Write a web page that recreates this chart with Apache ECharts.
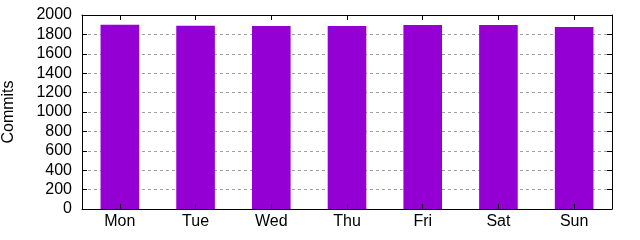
<!DOCTYPE html>
<html><head><meta charset="utf-8">
<script src="https://cdn.jsdelivr.net/npm/echarts@6/dist/echarts.min.js"></script>
<style>html,body{margin:0;padding:0;background:#fff}#c{width:640px;height:240px}</style>
</head><body><div id="c"></div>
<script>
const categories = ["Mon","Tue","Wed","Thu","Fri","Sat","Sun"];
const commits = [1900, 1888, 1887, 1886, 1896, 1897, 1876];
const yLabel = "Commits";

const chart = echarts.init(document.getElementById('c'), null, {renderer:'canvas'});
const font = 'Liberation Sans, Arial, sans-serif';
chart.setOption({
  animation:false,
  grid:{left:82,right:28,top:15,bottom:31,show:false,outerBoundsMode:'none',containLabel:false},
  xAxis:[{
    type:'category',data:categories,position:'bottom',
    axisLine:{show:true,lineStyle:{color:'#000',width:1}},
    axisTick:{show:true,inside:true,length:5,alignWithLabel:true,lineStyle:{color:'#000'}},
    axisLabel:{color:'#000',fontSize:16,fontFamily:font,margin:5},
    splitLine:{show:false},z:10
  },{
    type:'category',data:categories,position:'top',
    axisLine:{show:true,onZero:false,lineStyle:{color:'#000',width:1}},
    axisTick:{show:true,inside:true,length:5,alignWithLabel:true,lineStyle:{color:'#000'}},
    axisLabel:{show:false},z:10
  }],
  yAxis:[{
    type:'value',min:0,max:2000,interval:200,
    name:yLabel,nameLocation:'middle',nameGap:65,nameRotate:90,
    nameTextStyle:{color:'#000',fontSize:16,fontFamily:font},
    axisLine:{show:true,lineStyle:{color:'#000'}},
    axisTick:{show:true,inside:true,length:5,lineStyle:{color:'#000'}},
    axisLabel:{color:'#000',fontSize:16,fontFamily:font,margin:10,formatter:v=>String(v)},
    splitLine:{show:true,lineStyle:{color:'#a0a0a0',type:[3,3],width:1}},z:1
  },{
    type:'value',min:0,max:2000,interval:200,position:'right',
    axisLine:{show:true,onZero:false,lineStyle:{color:'#000'}},
    axisTick:{show:true,inside:true,length:5,lineStyle:{color:'#000'}},
    axisLabel:{show:false},splitLine:{show:false},z:10
  }],
  series:[{
    type:'bar',data:commits,barWidth:'51%',
    itemStyle:{color:'#9400d3'},z:3
  }]
});
</script></body></html>
